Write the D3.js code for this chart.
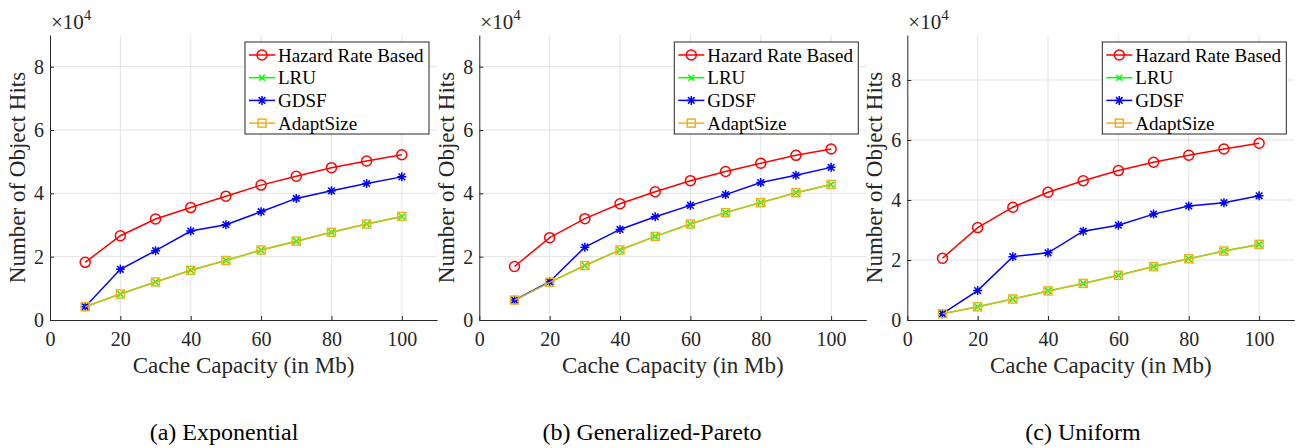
<!DOCTYPE html>
<html>
<head>
<meta charset="utf-8">
<script src="https://cdn.jsdelivr.net/npm/d3@7"></script>
<style>
  body { margin: 0; background: #fff; }
  svg { display: block; }
</style>
</head>
<body>
<div id="chart"></div>
<script>
// x values (cache capacity, Mb)
const capacity = [10, 20, 30, 40, 50, 60, 70, 80, 90, 100];

// hits, in units of 1e4
const expHazard = [1.82, 2.66, 3.19, 3.55, 3.91, 4.26, 4.54, 4.81, 5.02, 5.22];
const expLRU    = [0.42, 0.82, 1.20, 1.57, 1.88, 2.21, 2.49, 2.77, 3.03, 3.27];
const expGDSF   = [0.42, 1.60, 2.19, 2.81, 3.01, 3.42, 3.84, 4.08, 4.31, 4.52];
const expAdapt  = [0.42, 0.82, 1.20, 1.57, 1.88, 2.21, 2.49, 2.77, 3.03, 3.27];

const gpHazard = [1.69, 2.60, 3.20, 3.67, 4.05, 4.40, 4.69, 4.95, 5.20, 5.40];
const gpLRU    = [0.63, 1.19, 1.72, 2.21, 2.64, 3.03, 3.39, 3.71, 4.02, 4.28];
const gpGDSF   = [0.63, 1.21, 2.30, 2.86, 3.26, 3.62, 3.96, 4.34, 4.57, 4.82];
const gpAdapt  = [0.63, 1.19, 1.72, 2.21, 2.64, 3.03, 3.39, 3.71, 4.02, 4.28];

const uniHazard = [2.06, 3.08, 3.76, 4.26, 4.64, 4.98, 5.26, 5.49, 5.70, 5.89];
const uniLRU    = [0.21, 0.44, 0.70, 0.97, 1.22, 1.49, 1.78, 2.04, 2.30, 2.52];
const uniGDSF   = [0.21, 0.98, 2.11, 2.24, 2.96, 3.16, 3.53, 3.80, 3.91, 4.14];
const uniAdapt  = [0.21, 0.44, 0.70, 0.97, 1.22, 1.49, 1.78, 2.04, 2.30, 2.52];

const seriesNames = ["Hazard Rate Based", "LRU", "GDSF", "AdaptSize"];
const xTicks = [0, 20, 40, 60, 80, 100];
const yTicks = [0, 2, 4, 6, 8];
const captions = ["(a) Exponential", "(b) Generalized-Pareto", "(c) Uniform"];

const panels = [
  { left: 50,    yMax: 9,   series: [expHazard, expLRU, expGDSF, expAdapt] },
  { left: 479.3, yMax: 9,   series: [gpHazard, gpLRU, gpGDSF, gpAdapt] },
  { left: 907.3, yMax: 9.5, series: [uniHazard, uniLRU, uniGDSF, uniAdapt] }
];

const colors = ["#ff0000", "#00ff00", "#0000ff", "#edb120"];
const markers = ["circle", "x", "star", "square"];
const font = "Times New Roman, Liberation Serif, Tinos, DejaVu Serif, serif";
const axisColor = "#262626";

const W = 1303, H = 448;
const plotTop = 35, plotBottom = 320, plotW = 387;

const svg = d3.select("#chart").append("svg")
  .attr("width", W).attr("height", H)
  .attr("font-family", font);

function drawMarker(g, type, color, cx, cy) {
  if (type === "circle") {
    g.append("circle").attr("cx", cx).attr("cy", cy).attr("r", 5)
      .attr("fill", "none").attr("stroke", color).attr("stroke-width", 1.5);
  } else if (type === "square") {
    g.append("rect").attr("x", cx - 4).attr("y", cy - 4)
      .attr("width", 8).attr("height", 8)
      .attr("fill", "none").attr("stroke", color).attr("stroke-width", 1.5);
  } else if (type === "x") {
    const s = 3;
    g.append("path")
      .attr("d", `M${cx - s},${cy - s}L${cx + s},${cy + s}M${cx - s},${cy + s}L${cx + s},${cy - s}`)
      .attr("stroke", color).attr("stroke-width", 1.5);
  } else if (type === "star") {
    const s = 4.5, d = 3.3;
    g.append("path")
      .attr("d", `M${cx - s},${cy}L${cx + s},${cy}M${cx},${cy - s}L${cx},${cy + s}` +
        `M${cx - d},${cy - d}L${cx + d},${cy + d}M${cx - d},${cy + d}L${cx + d},${cy - d}`)
      .attr("stroke", color).attr("stroke-width", 1.5);
  }
}

panels.forEach((p, pi) => {
  const x = d3.scaleLinear().domain([0, 110]).range([p.left, p.left + plotW]);
  const y = d3.scaleLinear().domain([0, p.yMax]).range([plotBottom, plotTop]);
  const g = svg.append("g");

  // grid
  g.append("g").selectAll("line").data(xTicks.slice(1)).join("line")
    .attr("x1", d => x(d)).attr("x2", d => x(d))
    .attr("y1", plotTop).attr("y2", plotBottom)
    .attr("stroke", "#e3e3e3").attr("stroke-width", 1);
  g.append("g").selectAll("line").data(yTicks.slice(1)).join("line")
    .attr("x1", x(0)).attr("x2", x(110))
    .attr("y1", d => y(d)).attr("y2", d => y(d))
    .attr("stroke", "#e3e3e3").attr("stroke-width", 1);

  // axes
  const xAxis = g.append("g")
    .attr("transform", `translate(0,${plotBottom})`)
    .call(d3.axisBottom(x).tickValues(xTicks).tickSizeInner(-4).tickSizeOuter(0).tickPadding(12));
  const yAxis = g.append("g")
    .attr("transform", `translate(${p.left},0)`)
    .call(d3.axisLeft(y).tickValues(yTicks).tickSizeInner(-4).tickSizeOuter(0).tickPadding(6));
  [xAxis, yAxis].forEach(a => {
    a.attr("font-family", font).attr("font-size", 20);
    a.select(".domain").attr("stroke", axisColor);
    a.selectAll(".tick line").attr("stroke", axisColor);
    a.selectAll(".tick text").attr("fill", axisColor);
  });

  // exponent label
  const ex = g.append("text").attr("x", p.left + 1).attr("y", 29)
    .attr("font-size", 21).attr("fill", axisColor);
  ex.append("tspan").text("\u00d710");
  ex.append("tspan").attr("dy", -9).attr("font-size", 15).text("4");

  // axis labels
  g.append("text")
    .attr("x", (x(0) + x(110)) / 2).attr("y", 373)
    .attr("text-anchor", "middle").attr("font-size", 23).attr("fill", axisColor)
    .text("Cache Capacity (in Mb)");
  g.append("text")
    .attr("transform", `translate(${p.left - 25},${(plotTop + plotBottom) / 2}) rotate(-90)`)
    .attr("text-anchor", "middle").attr("font-size", 23).attr("fill", axisColor)
    .text("Number of Object Hits");

  // series
  const line = d3.line().x((d, i) => x(capacity[i])).y(d => y(d));
  p.series.forEach((vals, si) => {
    const sg = g.append("g");
    sg.append("path").datum(vals)
      .attr("d", line)
      .attr("fill", "none")
      .attr("stroke", colors[si])
      .attr("stroke-width", 1.5)
      .attr("stroke-opacity", si === 3 ? 0.9 : 1);
    vals.forEach((v, i) => drawMarker(sg, markers[si], colors[si], x(capacity[i]), y(v)));
  });

  // legend
  const lx = p.left + 195, ly = plotTop + 7;
  const lg = g.append("g");
  lg.append("rect").attr("x", lx).attr("y", ly).attr("width", 184).attr("height", 92)
    .attr("fill", "#fff").attr("stroke", axisColor).attr("stroke-width", 1);
  seriesNames.forEach((name, si) => {
    const ry = ly + 13 + si * 22.7;
    lg.append("line").attr("x1", lx + 4).attr("x2", lx + 30)
      .attr("y1", ry).attr("y2", ry)
      .attr("stroke", colors[si]).attr("stroke-width", 1.5);
    drawMarker(lg, markers[si], colors[si], lx + 17, ry);
    lg.append("text").attr("x", lx + 33).attr("y", ry + 6.5)
      .attr("font-size", 19).attr("fill", "#000").text(name);
  });

  // caption
  svg.append("text")
    .attr("x", [224, 652, 1083][pi]).attr("y", 440)
    .attr("text-anchor", "middle")
    .attr("font-size", 24).attr("fill", "#000")
    .text(captions[pi]);
});
</script>
</body>
</html>
